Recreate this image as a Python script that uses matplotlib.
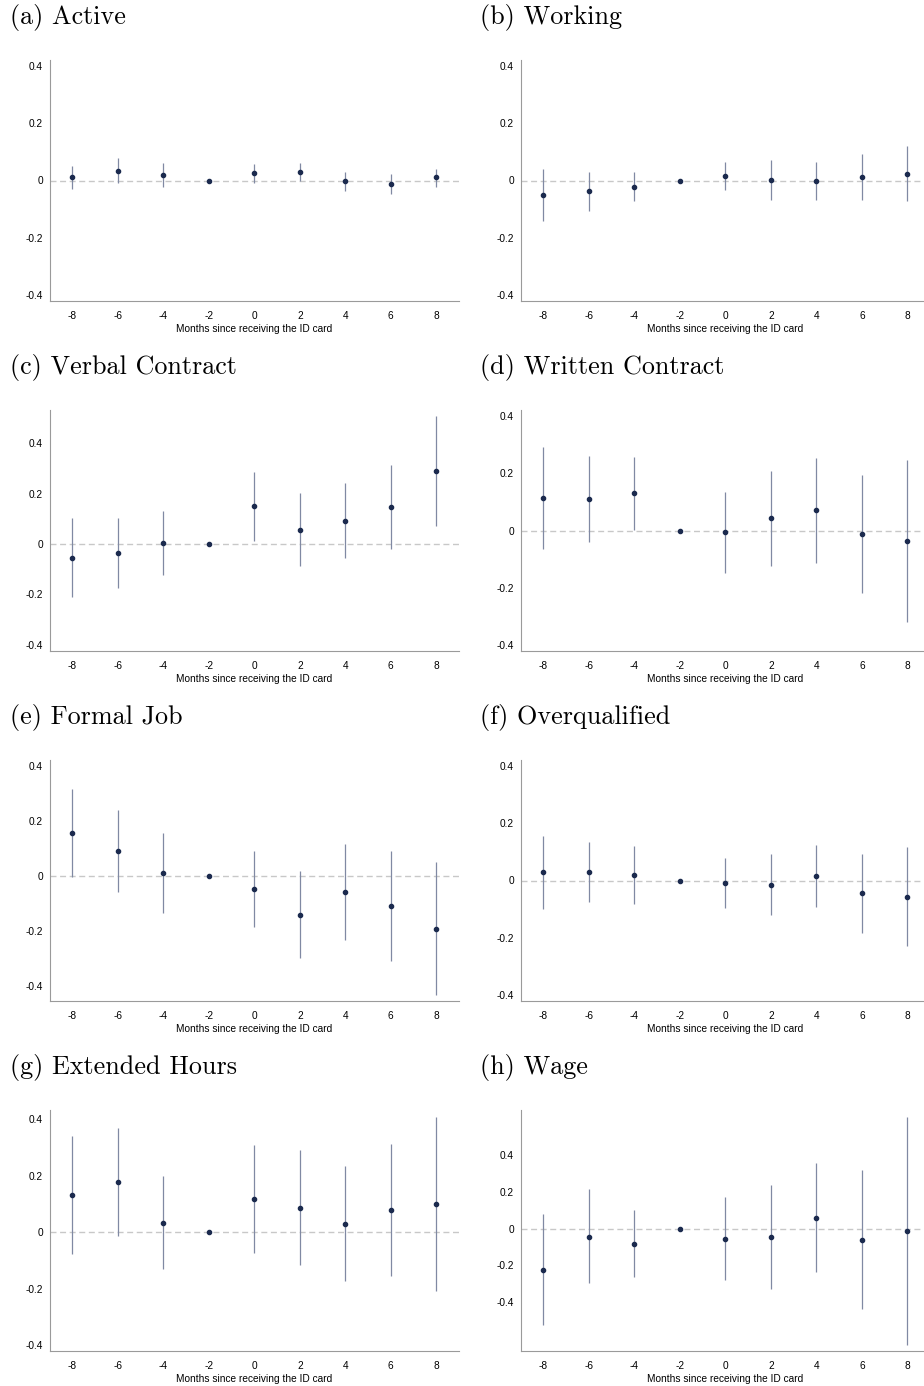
import matplotlib
matplotlib.use("Agg")
import matplotlib.pyplot as plt

# Event-study estimates: months relative to receiving the ID card
months = [-8, -6, -4, -2, 0, 2, 4, 6, 8]

titles = ["(a) Active", "(b) Working", "(c) Verbal Contract", "(d) Written Contract",
          "(e) Formal Job", "(f) Overqualified", "(g) Extended Hours", "(h) Wage"]

active_coef = [0.011, 0.034, 0.020, 0.0, 0.027, 0.029, -0.003, -0.012, 0.011]
active_lo = [-0.029, -0.010, -0.023, 0.0, -0.007, -0.003, -0.037, -0.047, -0.021]
active_hi = [0.051, 0.079, 0.062, 0.0, 0.059, 0.061, 0.031, 0.023, 0.041]

working_coef = [-0.049, -0.038, -0.022, 0.0, 0.016, 0.001, -0.003, 0.013, 0.024]
working_lo = [-0.140, -0.105, -0.073, 0.0, -0.034, -0.068, -0.069, -0.069, -0.071]
working_hi = [0.041, 0.029, 0.029, 0.0, 0.066, 0.071, 0.063, 0.093, 0.120]

verbal_coef = [-0.054, -0.036, 0.004, 0.0, 0.149, 0.057, 0.093, 0.147, 0.290]
verbal_lo = [-0.212, -0.173, -0.123, 0.0, 0.012, -0.087, -0.057, -0.020, 0.073]
verbal_hi = [0.103, 0.103, 0.131, 0.0, 0.286, 0.201, 0.242, 0.313, 0.508]

written_coef = [0.114, 0.111, 0.130, 0.0, -0.006, 0.042, 0.070, -0.012, -0.037]
written_lo = [-0.063, -0.041, 0.001, 0.0, -0.147, -0.125, -0.113, -0.217, -0.321]
written_hi = [0.290, 0.262, 0.257, 0.0, 0.135, 0.208, 0.253, 0.193, 0.245]

formal_coef = [0.155, 0.089, 0.010, 0.0, -0.049, -0.143, -0.061, -0.112, -0.194]
formal_lo = [-0.004, -0.061, -0.135, 0.0, -0.187, -0.300, -0.233, -0.309, -0.433]
formal_hi = [0.314, 0.238, 0.155, 0.0, 0.090, 0.016, 0.114, 0.089, 0.049]

overq_coef = [0.029, 0.029, 0.020, 0.0, -0.007, -0.014, 0.016, -0.044, -0.057]
overq_lo = [-0.098, -0.076, -0.083, 0.0, -0.095, -0.122, -0.091, -0.182, -0.229]
overq_hi = [0.156, 0.135, 0.122, 0.0, 0.080, 0.093, 0.125, 0.093, 0.116]

hours_coef = [0.132, 0.178, 0.033, 0.0, 0.118, 0.086, 0.029, 0.079, 0.100]
hours_lo = [-0.078, -0.014, -0.131, 0.0, -0.074, -0.118, -0.175, -0.154, -0.207]
hours_hi = [0.340, 0.369, 0.198, 0.0, 0.309, 0.291, 0.235, 0.311, 0.408]

wage_coef = [-0.222, -0.043, -0.083, 0.0, -0.054, -0.045, 0.060, -0.060, -0.013]
wage_lo = [-0.522, -0.298, -0.265, 0.0, -0.280, -0.330, -0.236, -0.435, -0.632]
wage_hi = [0.081, 0.215, 0.101, 0.0, 0.171, 0.240, 0.359, 0.319, 0.608]

panels = [
    (active_coef, active_lo, active_hi, (-0.421, 0.421)),
    (working_coef, working_lo, working_hi, (-0.421, 0.421)),
    (verbal_coef, verbal_lo, verbal_hi, (-0.425, 0.532)),
    (written_coef, written_lo, written_hi, (-0.421, 0.421)),
    (formal_coef, formal_lo, formal_hi, (-0.456, 0.421)),
    (overq_coef, overq_lo, overq_hi, (-0.421, 0.421)),
    (hours_coef, hours_lo, hours_hi, (-0.421, 0.432)),
    (wage_coef, wage_lo, wage_hi, (-0.665, 0.645)),
]

yticks = [-0.4, -0.2, 0, 0.2, 0.4]
ytick_labels = ["-0.4", "-0.2", "0", "0.2", "0.4"]
xtick_labels = [str(m) for m in months]

W, H = 924, 1386
fig = plt.figure(figsize=(W / 100, H / 100), dpi=100)

point_color = "#1b2a4e"
ci_color = "#8089a3"
spine_color = "#9a9a9a"
zero_color = "#c8c8c8"
sans = "Liberation Sans"

col_left = [49.5, 520.7]
ax_w = 409.5
row_top = [60, 410, 760, 1110]
ax_h = 241
title_x = [10, 480]
title_base = [24, 374, 724, 1074]

for i, (coef, lo, hi, ylim) in enumerate(panels):
    r, c = divmod(i, 2)
    left = col_left[c] / W
    bottom = 1 - (row_top[r] + ax_h) / H
    ax = fig.add_axes([left, bottom, ax_w / W, ax_h / H])

    ax.axhline(0, color=zero_color, lw=1.0, dashes=(4.3, 2.6), zorder=1)
    ax.vlines(months, lo, hi, color=ci_color, lw=0.9, zorder=2)
    ax.plot(months, coef, "o", color=point_color, ms=3.0, zorder=3)

    ax.set_xlim(-9, 9)
    ax.set_ylim(*ylim)
    ax.set_xticks(months)
    ax.set_xticklabels(xtick_labels, fontfamily=sans, fontsize=7.3)
    ax.set_yticks(yticks)
    ax.set_yticklabels(ytick_labels, fontfamily=sans, fontsize=7.3)
    ax.tick_params(axis="both", length=0)
    ax.tick_params(axis="x", pad=7)
    ax.tick_params(axis="y", pad=4.8)
    ax.set_xlabel("Months since receiving the ID card", fontfamily=sans,
                  fontsize=7.3, labelpad=2)

    for side in ("top", "right"):
        ax.spines[side].set_visible(False)
    for side in ("left", "bottom"):
        ax.spines[side].set_color(spine_color)
        ax.spines[side].set_linewidth(0.8)

    fig.text(title_x[c] / W, 1 - title_base[r] / H, titles[i],
             fontfamily="cmr10", fontsize=18.8, va="baseline", ha="left")

fig.savefig("out.png", dpi=100, facecolor="white")
